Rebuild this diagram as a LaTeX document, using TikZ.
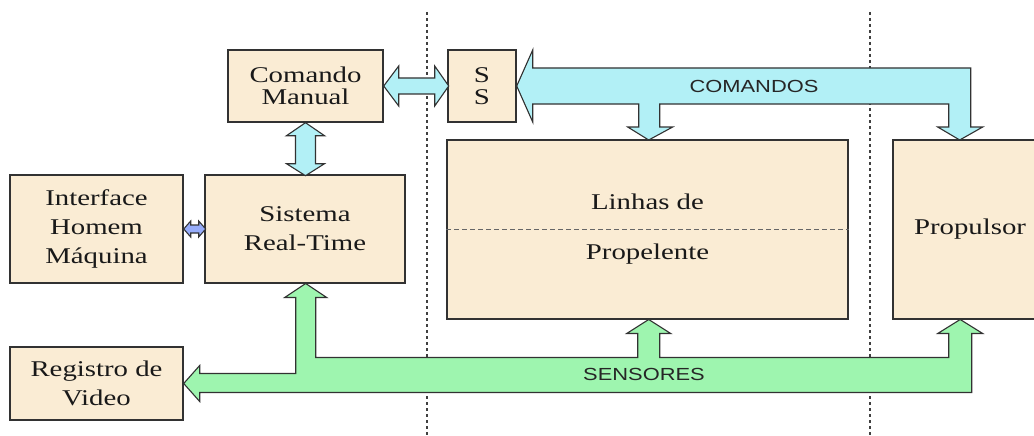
\documentclass[tikz,border=0pt]{standalone}
\usepackage{fontspec}
\setmainfont{Liberation Serif}[FakeStretch=1.28]
\newfontfamily\bandfont{Liberation Sans}[FakeStretch=1.25]

\definecolor{boxfill}{RGB}{250,236,212}
\definecolor{cmdfill}{RGB}{178,240,246}
\definecolor{sensfill}{RGB}{158,245,175}
\definecolor{hmifill}{RGB}{150,172,250}
\definecolor{edge}{RGB}{50,50,50}

\tikzset{
  blk/.style={draw=edge, line width=1.4pt, fill=boxfill, align=center, inner sep=0pt,
    text=black!90, font=\fontsize{22.5}{29}\selectfont},
  tight/.style={font=\fontsize{22.5}{22}\selectfont},
  cmdarrow/.style={draw=edge, line width=1.1pt, fill=cmdfill},
  sensarrow/.style={draw=edge, line width=1.1pt, fill=sensfill},
  hmiarrow/.style={draw=edge, line width=1.1pt, fill=hmifill},
  bandtext/.style={text=black!85, font=\bandfont\fontsize{17.5}{20}\selectfont},
  border/.style={draw=black!75, line width=1.3pt, dash pattern=on 3pt off 3pt}
}

\begin{document}
\begin{tikzpicture}[x=1pt,y=-1pt]
        \useasboundingbox (0,0) rectangle (1034,436);
        \clip (0,0) rectangle (1034,436);

        % Fronteiras
        \coordinate (f1) at (427,12);
        \coordinate (f2) at (870,12);
        \draw[border] (f1) -- (f1 |- 0,436);
        \draw[border] (f2) -- (f2 |- 0,436);

        % Blocos
        \node[blk, tight, minimum width=155pt, minimum height=72pt] (cm) at (305.5,86) {Comando\\Manual};
        \node[blk, tight, minimum width=68pt, minimum height=72pt] (ss) at (482,86) {S\\S};
        \node[blk, minimum width=173pt, minimum height=108pt] (hm) at (96.5,229) {Interface\\Homem\\Máquina};
        \node[blk, minimum width=200pt, minimum height=108pt] (rt) at (305,229) {Sistema\\Real-Time};
        \node[blk, minimum width=173pt, minimum height=73pt] (rv) at (96.5,383.5) {Registro de\\Video};
        \node[blk, minimum width=401pt, minimum height=179pt] (li) at (647.5,229.5) {Linhas de\\[21pt]Propelente};
        \node[blk, minimum width=154pt, minimum height=179pt] (pr) at (970,229.5) {Propulsor};

        % Linha tracejada
        \draw[draw=black!60, line width=1pt, dash pattern=on 5pt off 3pt] (li.west) -- (li.east);

        % Setas duplas
        \draw[cmdarrow] (cm.east) -- ++(15,-20) -- ++(0,12) -- ++(36,0) -- ++(0,-12) -- ++(14,20)
          -- ++(-14,20) -- ++(0,-12) -- ++(-36,0) -- ++(0,12) -- cycle;
        \draw[cmdarrow] (cm.south) -- ++(19,13) -- ++(-9,0) -- ++(0,28) -- ++(9,0) -- ++(-19,12)
          -- ++(-19,-12) -- ++(9,0) -- ++(0,-28) -- ++(-9,0) -- cycle;
        \draw[hmiarrow] (hm.east) -- ++(7,-8) -- ++(0,4) -- ++(8,0) -- ++(0,-4) -- ++(7,8)
          -- ++(-7,8) -- ++(0,-4) -- ++(-8,0) -- ++(0,4) -- cycle;

        % Barramento de comandos
        \draw[cmdarrow] (ss.east) -- ++(16,-36) -- ++(0,18) -- ++(438,0) -- ++(0,59) -- ++(12,0)
          -- ++(-23,13) -- ++(-22,-13) -- ++(11,0) -- ++(0,-23) -- ++(-289,0) -- ++(0,23)
          -- ++(13,0) -- ++(-24,13) -- ++(-21,-13) -- ++(11,0) -- ++(0,-23) -- ++(-106,0)
          -- ++(0,18) -- cycle;
        \node[bandtext] (cmdlbl) at (754,86) {COMANDOS};

        % Barramento de sensores
        \draw[sensarrow] (rv.east) -- ++(16,-18) -- ++(0,8) -- ++(96,0) -- ++(0,-76) -- ++(-11,0)
          -- ++(21,-14) -- ++(21,14) -- ++(-11,0) -- ++(0,60) -- ++(322,0) -- ++(0,-24)
          -- ++(-11,0) -- ++(22,-14) -- ++(22,14) -- ++(-11,0) -- ++(0,24) -- ++(289,0)
          -- ++(0,-24) -- ++(-11,0) -- ++(22.5,-14) -- ++(22.5,14) -- ++(-11,0) -- ++(0,59)
          -- ++(-772,0) -- ++(0,9) -- cycle;
        \node[bandtext] (senslbl) at (644,374) {SENSORES};
\end{tikzpicture}
\end{document}
